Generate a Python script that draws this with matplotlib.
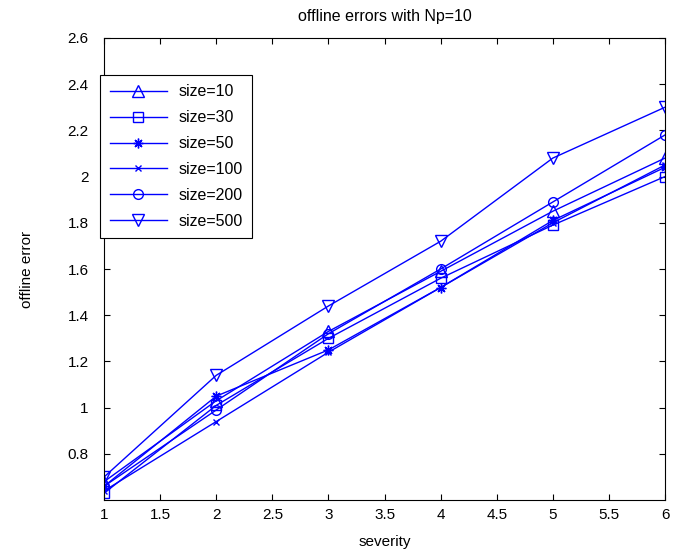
import numpy as np
import matplotlib
matplotlib.use("Agg")
import matplotlib.pyplot as plt

plt.rcParams['font.family'] = ['Liberation Sans', 'DejaVu Sans']

# severity levels
severity = [1, 2, 3, 4, 5, 6]

# offline error
size10 = [0.68, 1.03, 1.33, 1.59, 1.85, 2.08]
size30 = [0.63, 1.01, 1.30, 1.56, 1.79, 2.00]
size50 = [0.66, 1.05, 1.25, 1.52, 1.81, 2.04]
size100 = [0.64, 0.94, 1.24, 1.52, 1.80, 2.05]
size200 = [0.66, 0.99, 1.32, 1.60, 1.89, 2.18]
size500 = [0.70, 1.14, 1.44, 1.72, 2.08, 2.30]

labels = ['size=10', 'size=30', 'size=50', 'size=100', 'size=200', 'size=500']
series = [size10, size30, size50, size100, size200, size500]
markers = ['^', 's', (8, 2, 0), 'x', 'o', 'v']
msizes = [8, 7, 7, 5, 7, 8]

fig = plt.figure(figsize=(6.8, 5.49), dpi=100)
ax = fig.add_axes([0.153, 0.089, 0.825, 0.842])

for y, lab, m, s in zip(series, labels, markers, msizes):
    ax.plot(severity, y, color='#0000ff', lw=1, marker=m, ms=s,
            mfc='none', mec='#0000ff', mew=1, label=lab)

ax.set_xlim(1, 6)
ax.set_ylim(0.6, 2.6)
ax.set_xticks(np.arange(1, 6.01, 0.5))
ax.set_xticklabels(['1', '1.5', '2', '2.5', '3', '3.5', '4', '4.5', '5', '5.5', '6'])
ax.set_yticks(np.arange(0.8, 2.61, 0.2))
ax.set_yticklabels(['0.8', '1', '1.2', '1.4', '1.6', '1.8', '2', '2.2', '2.4', '2.6'])
ax.tick_params(direction='in', top=True, right=True, labelsize=11, length=4)
ax.tick_params(axis='x', pad=6)
ax.tick_params(axis='y', pad=11)
for sp in ax.spines.values():
    sp.set_linewidth(0.8)

ax.set_xlabel('severity', fontsize=11, labelpad=9)
ax.set_ylabel('offline error', fontsize=11, labelpad=24)
ax.set_title('offline errors with Np=10', fontsize=11.5, pad=12)

leg = ax.legend(loc='upper left', bbox_to_anchor=(-0.007, 0.92), borderaxespad=0,
                fontsize=11.5, frameon=True, fancybox=False, edgecolor='black',
                framealpha=1, handlelength=3.6, borderpad=0.6, labelspacing=0.68,
                handletextpad=0.7)
leg.get_frame().set_linewidth(0.8)

fig.savefig('out.png', dpi=100)
